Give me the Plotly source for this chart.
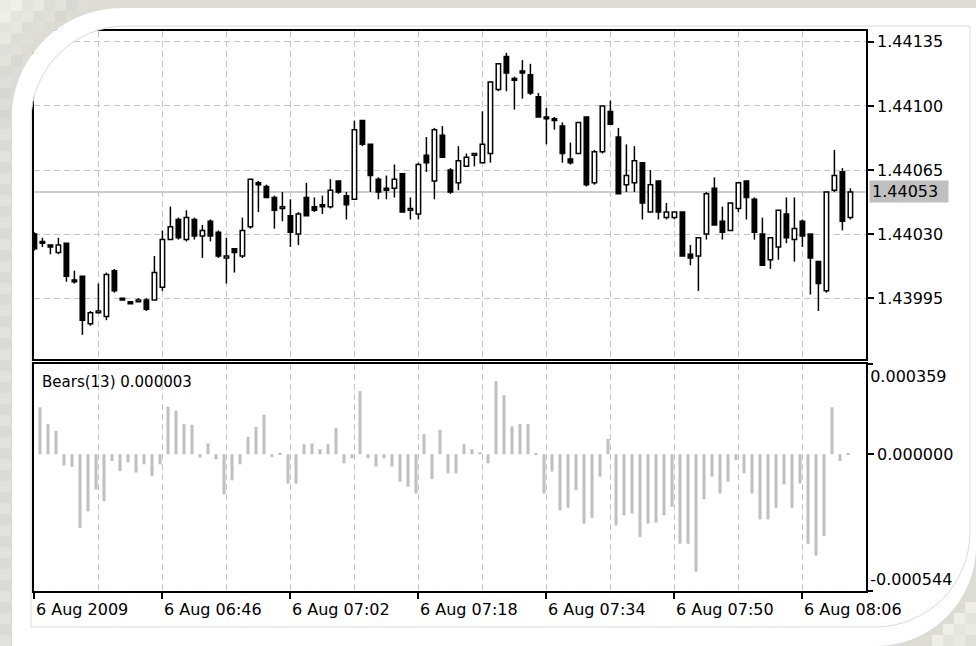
import plotly.graph_objects as go

W, H = 976, 646

# EURUSD M1 bars, 6 Aug 2009 06:30 onwards
opens = [1.44030, 1.44026, 1.44024, 1.44020, 1.44025, 1.44005, 1.44007, 1.43981, 1.43987, 1.43985,
         1.44010, 1.43995, 1.43993, 1.43993, 1.43994, 1.43994, 1.44001, 1.44027, 1.44038, 1.44027,
         1.44038, 1.44029, 1.44037, 1.44031, 1.44017, 1.44022, 1.44018, 1.44034, 1.44058, 1.44056,
         1.44050, 1.44044, 1.44040, 1.44030, 1.44050, 1.44045, 1.44046, 1.44045, 1.44059, 1.44051,
         1.44049, 1.44092, 1.44079, 1.44060, 1.44055, 1.44055, 1.44063, 1.44043, 1.44041, 1.44073,
         1.44059, 1.44084, 1.44065, 1.44058, 1.44067, 1.44073, 1.44069, 1.44074, 1.44109, 1.44127,
         1.44115, 1.44119, 1.44117, 1.44105, 1.44094, 1.44093, 1.44089, 1.44071, 1.44074, 1.44094,
         1.44058, 1.44075, 1.44097, 1.44083, 1.44057, 1.44058, 1.44069, 1.44042, 1.44059, 1.44039,
         1.44039, 1.44042, 1.44019, 1.44018, 1.44030, 1.44055, 1.44037, 1.44032, 1.44044, 1.44059,
         1.44049, 1.44030, 1.44016, 1.44023, 1.44041, 1.44027, 1.44037, 1.44030, 1.44015, 1.43999,
         1.44054, 1.44064, 1.44039]
highs = [1.44031, 1.44028, 1.44024, 1.44028, 1.44025, 1.44010, 1.44007, 1.43988, 1.44003, 1.44009,
         1.44011, 1.43995, 1.43993, 1.43995, 1.43995, 1.44018, 1.44032, 1.44045, 1.44039, 1.44043,
         1.44039, 1.44035, 1.44038, 1.44032, 1.44028, 1.44022, 1.44039, 1.44060, 1.44059, 1.44057,
         1.44051, 1.44053, 1.44049, 1.44042, 1.44058, 1.44050, 1.44051, 1.44060, 1.44059, 1.44053,
         1.44092, 1.44092, 1.44079, 1.44061, 1.44062, 1.44068, 1.44063, 1.44050, 1.44069, 1.44083,
         1.44088, 1.44089, 1.44066, 1.44078, 1.44074, 1.44074, 1.44097, 1.44113, 1.44123, 1.44129,
         1.44116, 1.44125, 1.44123, 1.44107, 1.44099, 1.44094, 1.44091, 1.44080, 1.44091, 1.44094,
         1.44076, 1.44100, 1.44103, 1.44088, 1.44079, 1.44078, 1.44069, 1.44065, 1.44059, 1.44047,
         1.44042, 1.44042, 1.44024, 1.44028, 1.44053, 1.44061, 1.44045, 1.44047, 1.44058, 1.44059,
         1.44050, 1.44039, 1.44028, 1.44043, 1.44050, 1.44050, 1.44038, 1.44030, 1.44015, 1.44053,
         1.44076, 1.44066, 1.44055]
lows = [1.44021, 1.44023, 1.44019, 1.44019, 1.44004, 1.44003, 1.43975, 1.43980, 1.43987, 1.43983,
        1.43998, 1.43994, 1.43992, 1.43993, 1.43988, 1.43994, 1.43999, 1.44027, 1.44027, 1.44026,
        1.44027, 1.44017, 1.44026, 1.44017, 1.44003, 1.44009, 1.44017, 1.44033, 1.44042, 1.44050,
        1.44033, 1.44037, 1.44023, 1.44024, 1.44040, 1.44042, 1.44041, 1.44044, 1.44052, 1.44038,
        1.44049, 1.44078, 1.44053, 1.44049, 1.44049, 1.44050, 1.44042, 1.44038, 1.44038, 1.44064,
        1.44049, 1.44072, 1.44052, 1.44054, 1.44067, 1.44067, 1.44069, 1.44069, 1.44108, 1.44108,
        1.44098, 1.44104, 1.44106, 1.44094, 1.44079, 1.44087, 1.44069, 1.44068, 1.44074, 1.44056,
        1.44057, 1.44074, 1.44090, 1.44052, 1.44053, 1.44053, 1.44038, 1.44042, 1.44038, 1.44038,
        1.44038, 1.44018, 1.44013, 1.43999, 1.44027, 1.44035, 1.44027, 1.44032, 1.44042, 1.44038,
        1.44027, 1.44013, 1.44011, 1.44016, 1.44025, 1.44015, 1.44023, 1.43997, 1.43988, 1.43998,
        1.44053, 1.44032, 1.44038]
closes = [1.44022, 1.44025, 1.44023, 1.44024, 1.44007, 1.44004, 1.43983, 1.43987, 1.43988, 1.44008,
          1.43999, 1.43994, 1.43992, 1.43994, 1.43989, 1.44009, 1.44027, 1.44034, 1.44028, 1.44039,
          1.44029, 1.44032, 1.44029, 1.44018, 1.44018, 1.44020, 1.44032, 1.44060, 1.44057, 1.44050,
          1.44043, 1.44045, 1.44031, 1.44041, 1.44040, 1.44043, 1.44045, 1.44054, 1.44053, 1.44046,
          1.44087, 1.44079, 1.44062, 1.44053, 1.44054, 1.44060, 1.44042, 1.44044, 1.44068, 1.44069,
          1.44087, 1.44072, 1.44053, 1.44070, 1.44072, 1.44074, 1.44079, 1.44113, 1.44123, 1.44118,
          1.44114, 1.44118, 1.44107, 1.44094, 1.44093, 1.44092, 1.44074, 1.44069, 1.44091, 1.44057,
          1.44075, 1.44100, 1.44090, 1.44052, 1.44062, 1.44070, 1.44047, 1.44057, 1.44042, 1.44042,
          1.44042, 1.44018, 1.44017, 1.44028, 1.44052, 1.44035, 1.44031, 1.44047, 1.44058, 1.44050,
          1.44031, 1.44013, 1.44028, 1.44043, 1.44028, 1.44033, 1.44029, 1.44017, 1.44003, 1.44053,
          1.44062, 1.44037, 1.44053]

# Bears Power (13) histogram
bears = [0.000200, 0.000187, 0.000120, 0.000093, -0.000045, -0.000050, -0.000293, -0.000227, -0.000140, -0.000187,
         -0.000027, -0.000067, -0.000033, -0.000073, -0.000040, -0.000087, -0.000040, 0.000189, 0.000173, 0.000120,
         0.000117, -0.000013, 0.000043, -0.000020, -0.000160, -0.000104, -0.000040, 0.000069, 0.000109, 0.000157,
         -0.000011, 0.000006, -0.000117, -0.000117, 0.000040, 0.000043, 0.000020, 0.000040, 0.000104, -0.000036,
         -0.000016, 0.000251, -0.000016, -0.000049, -0.000016, -0.000049, -0.000109, -0.000129, -0.000156, 0.000080,
         -0.000099, 0.000097, -0.000076, -0.000076, 0.000040, 0.000020, 0.000008, -0.000036, 0.000291, 0.000235,
         0.000111, 0.000120, 0.000120, 0.000005, -0.000156, -0.000069, -0.000223, -0.000213, -0.000143, -0.000276,
         -0.000253, -0.000089, 0.000061, -0.000283, -0.000243, -0.000236, -0.000329, -0.000276, -0.000272, -0.000243,
         -0.000209, -0.000356, -0.000356, -0.000467, -0.000179, -0.000089, -0.000156, -0.000109, -0.000023, -0.000076,
         -0.000156, -0.000259, -0.000259, -0.000213, -0.000120, -0.000213, -0.000116, -0.000356, -0.000403, -0.000325,
         0.000187, -0.000027, 0.000003]
bears_period = 13

price_levels = [1.43995, 1.44030, 1.44065, 1.44100, 1.44135]
price_range = [1.439618, 1.441409]
bears_max, bears_min = 0.000359, -0.000544
bid = 1.44053
time_labels = ["6 Aug 2009", "6 Aug 06:46", "6 Aug 07:02", "6 Aug 07:18",
               "6 Aug 07:34", "6 Aug 07:50", "6 Aug 08:06"]
bars_per_label = 16

n = len(opens)
idx = list(range(n))
label_pos = [k * bars_per_label for k in range(len(time_labels))]
minor_pos = [p + bars_per_label // 2 for p in label_pos]

FONT = "DejaVu Sans"
GRID = dict(showgrid=True, gridcolor="#c6c6c6", gridwidth=1.4, griddash="6px,4px")
FRAME = dict(showline=True, mirror=True, linecolor="#000000", linewidth=1.6,
             zeroline=False, automargin=False)
TICKS = dict(ticks="outside", ticklen=6, tickwidth=1.5, tickcolor="#000000")

fig = go.Figure()

# candle bodies
body_base = [min(o, c) for o, c in zip(opens, closes)]
body_h = [abs(c - o) for o, c in zip(opens, closes)]
body_fill = ["#ffffff" if c >= o else "#000000" for o, c in zip(opens, closes)]
fig.add_trace(go.Bar(
    x=idx, y=body_h, base=body_base, width=0.55,
    marker=dict(color=body_fill, line=dict(color="#000000", width=1.5)),
    xaxis="x", yaxis="y", showlegend=False))

# candle shadows above and below the body
wx, wy = [], []
for i in idx:
    top = max(opens[i], closes[i])
    bot = min(opens[i], closes[i])
    if highs[i] > top:
        wx += [i, i, None]
        wy += [top, highs[i], None]
    if lows[i] < bot:
        wx += [i, i, None]
        wy += [lows[i], bot, None]
fig.add_trace(go.Scatter(x=wx, y=wy, mode="lines", line=dict(color="#000000", width=1.5),
                         xaxis="x", yaxis="y", showlegend=False))

# Bears Power histogram
fig.add_trace(go.Bar(
    x=[i - 0.3 for i in idx], y=bears, width=0.38,
    marker=dict(color="#c0c0c0", line=dict(width=0)),
    xaxis="x2", yaxis="y2", showlegend=False))

# the indicator scale limits carry their own labels on two overlay axes
for ax, val in (("y3", bears_max), ("y4", bears_min)):
    fig.add_trace(go.Scatter(x=[0], y=[val], mode="markers", marker=dict(size=0, opacity=0),
                             xaxis="x2", yaxis=ax, showlegend=False, hoverinfo="skip"))

xdom = [34 / W, 866 / W]
main_dom = [1 - 359 / H, 1 - 31 / H]
ind_dom = [1 - 591 / H, 1 - 364 / H]
tickfont = dict(family=FONT, size=16, color="#000000")

fig.update_layout(
    width=W, height=H, autosize=False,
    margin=dict(l=0, r=0, t=0, b=0, pad=0, autoexpand=False),
    paper_bgcolor="#ffffff", plot_bgcolor="rgba(0,0,0,0)",
    barmode="overlay", hovermode=False, showlegend=False,
    xaxis=dict(domain=xdom, anchor="y", range=[-0.05, n + 0.95],
               tickmode="array", tickvals=list(range(0, n, 8)),
               showticklabels=False, ticks="", **GRID, **FRAME),
    yaxis=dict(domain=main_dom, anchor="x", range=price_range, side="right",
               tickmode="array", tickvals=price_levels, tickformat=".5f",
               tickfont=tickfont, **TICKS, **GRID, **FRAME),
    xaxis2=dict(domain=xdom, anchor="y2", matches="x",
                tickmode="array", tickvals=label_pos, ticktext=time_labels,
                ticklabelposition="outside right", ticklabelstandoff=3, tickfont=tickfont,
                minor=dict(tickmode="array", tickvals=minor_pos, ticks="",
                           showgrid=True, gridcolor="#c6c6c6", gridwidth=1.4, griddash="6px,4px"),
                **TICKS, **GRID, **FRAME),
    yaxis2=dict(domain=ind_dom, anchor="x2", range=[bears_min, bears_max], side="right",
                tickmode="array", tickvals=[0.0], ticktext=[f"{0.0:.6f}"],
                tickfont=tickfont, showgrid=False, **TICKS, **FRAME),
    yaxis3=dict(overlaying="y2", anchor="x2", range=[bears_min, bears_max], side="right",
                tickmode="array", tickvals=[bears_max], ticktext=[f"{bears_max:.6f}"],
                ticklabelposition="outside bottom", tickfont=tickfont, **TICKS,
                showgrid=False, showline=False, zeroline=False, automargin=False),
    yaxis4=dict(overlaying="y2", anchor="x2", range=[bears_min, bears_max], side="right",
                tickmode="array", tickvals=[bears_min], ticktext=[f"{bears_min:.6f}"],
                ticklabelposition="outside top", tickfont=tickfont, **TICKS,
                showgrid=False, showline=False, zeroline=False, automargin=False),
)

# indicator caption and current bid label
fig.add_annotation(xref="paper", yref="paper", x=40 / W, y=1 - 382 / H,
                   xanchor="left", yanchor="middle", showarrow=False,
                   text=f"Bears({bears_period}) {bears[-1]:.6f}",
                   font=dict(family=FONT, size=15, color="#000000"))
fig.add_annotation(xref="paper", yref="y", x=869 / W, y=bid, xanchor="left", yanchor="middle",
                   showarrow=False, text=f"{bid:.5f}", bgcolor="#c0c0c0",
                   width=74, height=17, align="left", borderpad=2,
                   font=dict(family=FONT, size=16, color="#000000"))

# bid line
shapes = [dict(type="line", xref="x domain", yref="y", x0=0, x1=1, y0=bid, y1=bid,
               line=dict(color="#bcbcbc", width=1.5), layer="below")]


# ---- window frame decoration ----
def pt(x, y):
    return f"{x / W:.6f},{1 - y / H:.6f}"


K = 0.5523


def rounded_rect(x0, y0, x1, y1, r_tl, r_br):
    return (f"M{pt(x0, y0 + r_tl)} "
            f"C{pt(x0, y0 + r_tl - K * r_tl)} {pt(x0 + r_tl - K * r_tl, y0)} {pt(x0 + r_tl, y0)} "
            f"L{pt(x1, y0)} L{pt(x1, y1 - r_br)} "
            f"C{pt(x1, y1 - r_br + K * r_br)} {pt(x1 - r_br + K * r_br, y1)} {pt(x1 - r_br, y1)} "
            f"L{pt(x0, y1)} Z")


OUT = (12, 8, W, H, 110, 100)
INN = (31, 26, 970, 627, 95, 95)
outer = rounded_rect(*OUT)
inner = rounded_rect(*INN)
canvas = f"M{pt(0, 0)} L{pt(W, 0)} L{pt(W, H)} L{pt(0, H)} Z"

# white band between the window edge and the rounded frame
shapes.append(dict(type="path", xref="paper", yref="paper", path=outer + " " + inner,
                   fillcolor="#ffffff", fillrule="evenodd", line=dict(width=0), layer="above"))
# grey backdrop outside the frame
shapes.append(dict(type="path", xref="paper", yref="paper", path=canvas + " " + outer,
                   fillcolor="#dcdcd5", fillrule="evenodd", line=dict(width=0), layer="above"))


def grey(v, alt):
    v = int(max(0, min(255, v + (4 if alt else -3))))
    return f"rgb({v},{v},{max(0, v - 6)})"


def square(x0, y0, s, color):
    return dict(type="rect", xref="paper", yref="paper",
                x0=x0 / W, x1=(x0 + s) / W, y0=1 - (y0 + s) / H, y1=1 - y0 / H,
                fillcolor=color, line=dict(width=0), layer="above")


S = 11
# top-left corner tiles
cx, cy, r = OUT[0] + OUT[4], OUT[1] + OUT[4], OUT[4]
for gx in range(0, cx, S):
    for gy in range(0, cy, S):
        px, py = gx + S, gy + S
        d = ((px - cx) ** 2 + (py - cy) ** 2) ** 0.5
        if px <= OUT[0] or py <= OUT[1] or d >= r:
            dc = ((gx + S / 2 - cx) ** 2 + (gy + S / 2 - cy) ** 2) ** 0.5 - r
            t = max(0.0, min(1.0, dc / 60))
            shapes.append(square(gx, gy, S, grey(214 + 30 * t, (gx // S + gy // S) % 2)))
# left strip tiles
for gy in range(cy, H, S):
    shapes.append(square(0, gy, S, grey(222, (gy // S) % 2)))
# bottom-right corner tiles
bx, by, rb = W - OUT[5], H - OUT[5], OUT[5]
for gx in range(W - S, bx - 1, -S):
    for gy in range(H - S, by - 1, -S):
        d = ((gx - bx) ** 2 + (gy - by) ** 2) ** 0.5
        if d >= rb:
            dc = d - rb
            t = max(0.0, min(1.0, dc / 50))
            shapes.append(square(gx, gy, S, grey(236 - 14 * t, ((W - gx) // S + (H - gy) // S) % 2)))

# thin outline of the rounded frame
shapes.append(dict(type="path", xref="paper", yref="paper", path=inner,
                   fillcolor="rgba(0,0,0,0)", line=dict(color="#dadada", width=1), layer="above"))

fig.update_layout(shapes=shapes)

fig.write_html("out.html")
